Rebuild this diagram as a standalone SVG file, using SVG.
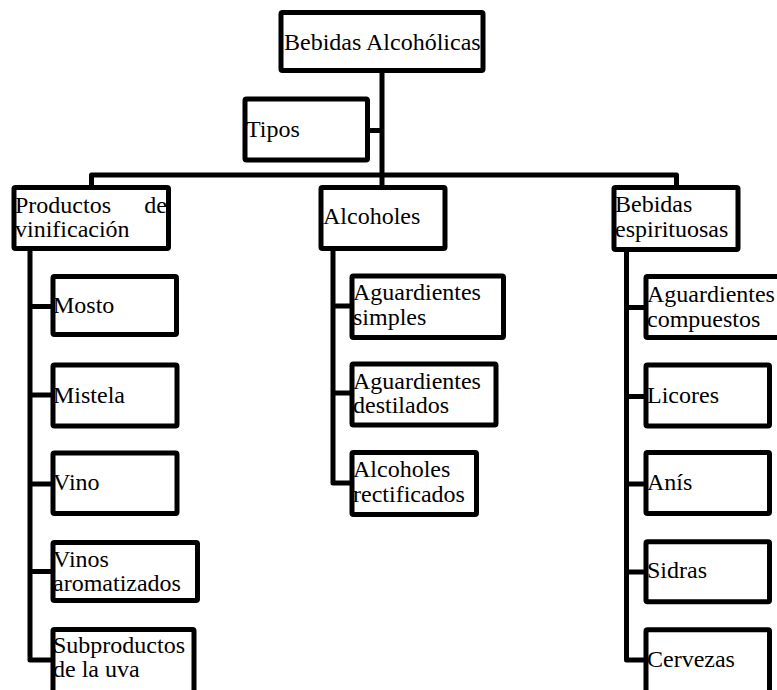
<svg xmlns="http://www.w3.org/2000/svg" width="777" height="690" viewBox="0 0 777 690">
  <style>
    .box { fill: #ffffff; stroke: #000000; stroke-width: 5; }
    .wire { fill: none; stroke: #000000; stroke-width: 5; stroke-linejoin: round; }
    text { font-family: "Liberation Serif", "DejaVu Serif", serif; font-size: 24px; fill: #000000; }
  </style>
  <rect width="777" height="690" fill="#ffffff"/>

  <!-- connectors -->
  <g id="connectors">
    <path class="wire" d="M382 70 V187"/>
    <path class="wire" d="M367 130.5 H382"/>
    <path class="wire" d="M91.5 187 V175 H676.5 V187"/>
    <!-- left column -->
    <path class="wire" d="M30 249 V660 H53"/>
    <path class="wire" d="M30 306.5 H53 M30 395 H53 M30 484 H53 M30 571.5 H53"/>
    <!-- middle column -->
    <path class="wire" d="M333 249 V483 H352"/>
    <path class="wire" d="M333 306 H352 M333 393 H352"/>
    <!-- right column -->
    <path class="wire" d="M626.5 249 V660 H646"/>
    <path class="wire" d="M626.5 307.5 H646 M626.5 396.5 H646 M626.5 484 H646 M626.5 572 H646"/>
  </g>

  <g id="root">
    <rect class="box" x="281" y="12.5" width="202" height="58" rx="1.5"/>
    <text x="284" y="50">Bebidas Alcohólicas</text>
  </g>
  <g id="tipos">
    <rect class="box" x="245" y="99" width="122.5" height="61" rx="1.5"/>
    <text x="246" y="137">Tipos</text>
  </g>

  <g id="productos">
    <rect class="box" x="14" y="187.5" width="154.5" height="61" rx="1.5"/>
    <text x="15" y="213">Productos</text>
    <text x="167" y="213" text-anchor="end">de</text>
    <text x="15" y="237">vinificación</text>
  </g>
  <g id="mosto">
    <rect class="box" x="53" y="276.5" width="123.5" height="58" rx="1.5"/>
    <text x="53" y="313">Mosto</text>
  </g>
  <g id="mistela">
    <rect class="box" x="53" y="365" width="124" height="61" rx="1.5"/>
    <text x="53" y="402.5">Mistela</text>
  </g>
  <g id="vino">
    <rect class="box" x="53" y="453" width="124" height="60.5" rx="1.5"/>
    <text x="53" y="490">Vino</text>
  </g>
  <g id="vinos-aromatizados">
    <rect class="box" x="53" y="542.5" width="144.5" height="58" rx="1.5"/>
    <text x="53" y="566.5">Vinos</text>
    <text x="53" y="590.5">aromatizados</text>
  </g>
  <g id="subproductos">
    <rect class="box" x="53" y="629.5" width="141" height="80" rx="1.5"/>
    <text x="53" y="653">Subproductos</text>
    <text x="53" y="677">de la uva</text>
  </g>

  <g id="alcoholes">
    <rect class="box" x="321" y="187.5" width="124" height="61" rx="1.5"/>
    <text x="323" y="224">Alcoholes</text>
  </g>
  <g id="aguardientes-simples">
    <rect class="box" x="352" y="276" width="151.5" height="61.5" rx="1.5"/>
    <text x="353" y="300">Aguardientes</text>
    <text x="353" y="324.5">simples</text>
  </g>
  <g id="aguardientes-destilados">
    <rect class="box" x="352" y="364" width="144" height="61" rx="1.5"/>
    <text x="353" y="389">Aguardientes</text>
    <text x="353" y="413">destilados</text>
  </g>
  <g id="alcoholes-rectificados">
    <rect class="box" x="352" y="452.5" width="124.5" height="62" rx="1.5"/>
    <text x="353" y="477">Alcoholes</text>
    <text x="353" y="501.5">rectificados</text>
  </g>

  <g id="bebidas-espirituosas">
    <rect class="box" x="614" y="187.5" width="124" height="62" rx="1.5"/>
    <text x="615" y="211.5">Bebidas</text>
    <text x="615" y="236.5">espirituosas</text>
  </g>
  <g id="aguardientes-compuestos">
    <rect class="box" x="646" y="276.5" width="140" height="61" rx="1.5"/>
    <text x="647" y="301.5">Aguardientes</text>
    <text x="647" y="326.5">compuestos</text>
  </g>
  <g id="licores">
    <rect class="box" x="646" y="365" width="123.5" height="61" rx="1.5"/>
    <text x="647" y="402.5">Licores</text>
  </g>
  <g id="anis">
    <rect class="box" x="646" y="452.5" width="123.5" height="61" rx="1.5"/>
    <text x="647" y="490">Anís</text>
  </g>
  <g id="sidras">
    <rect class="box" x="646" y="541.8" width="123.5" height="60" rx="1.5"/>
    <text x="647" y="578">Sidras</text>
  </g>
  <g id="cervezas">
    <rect class="box" x="646" y="629.8" width="123.5" height="80" rx="1.5"/>
    <text x="647" y="666.5">Cervezas</text>
  </g>
</svg>
